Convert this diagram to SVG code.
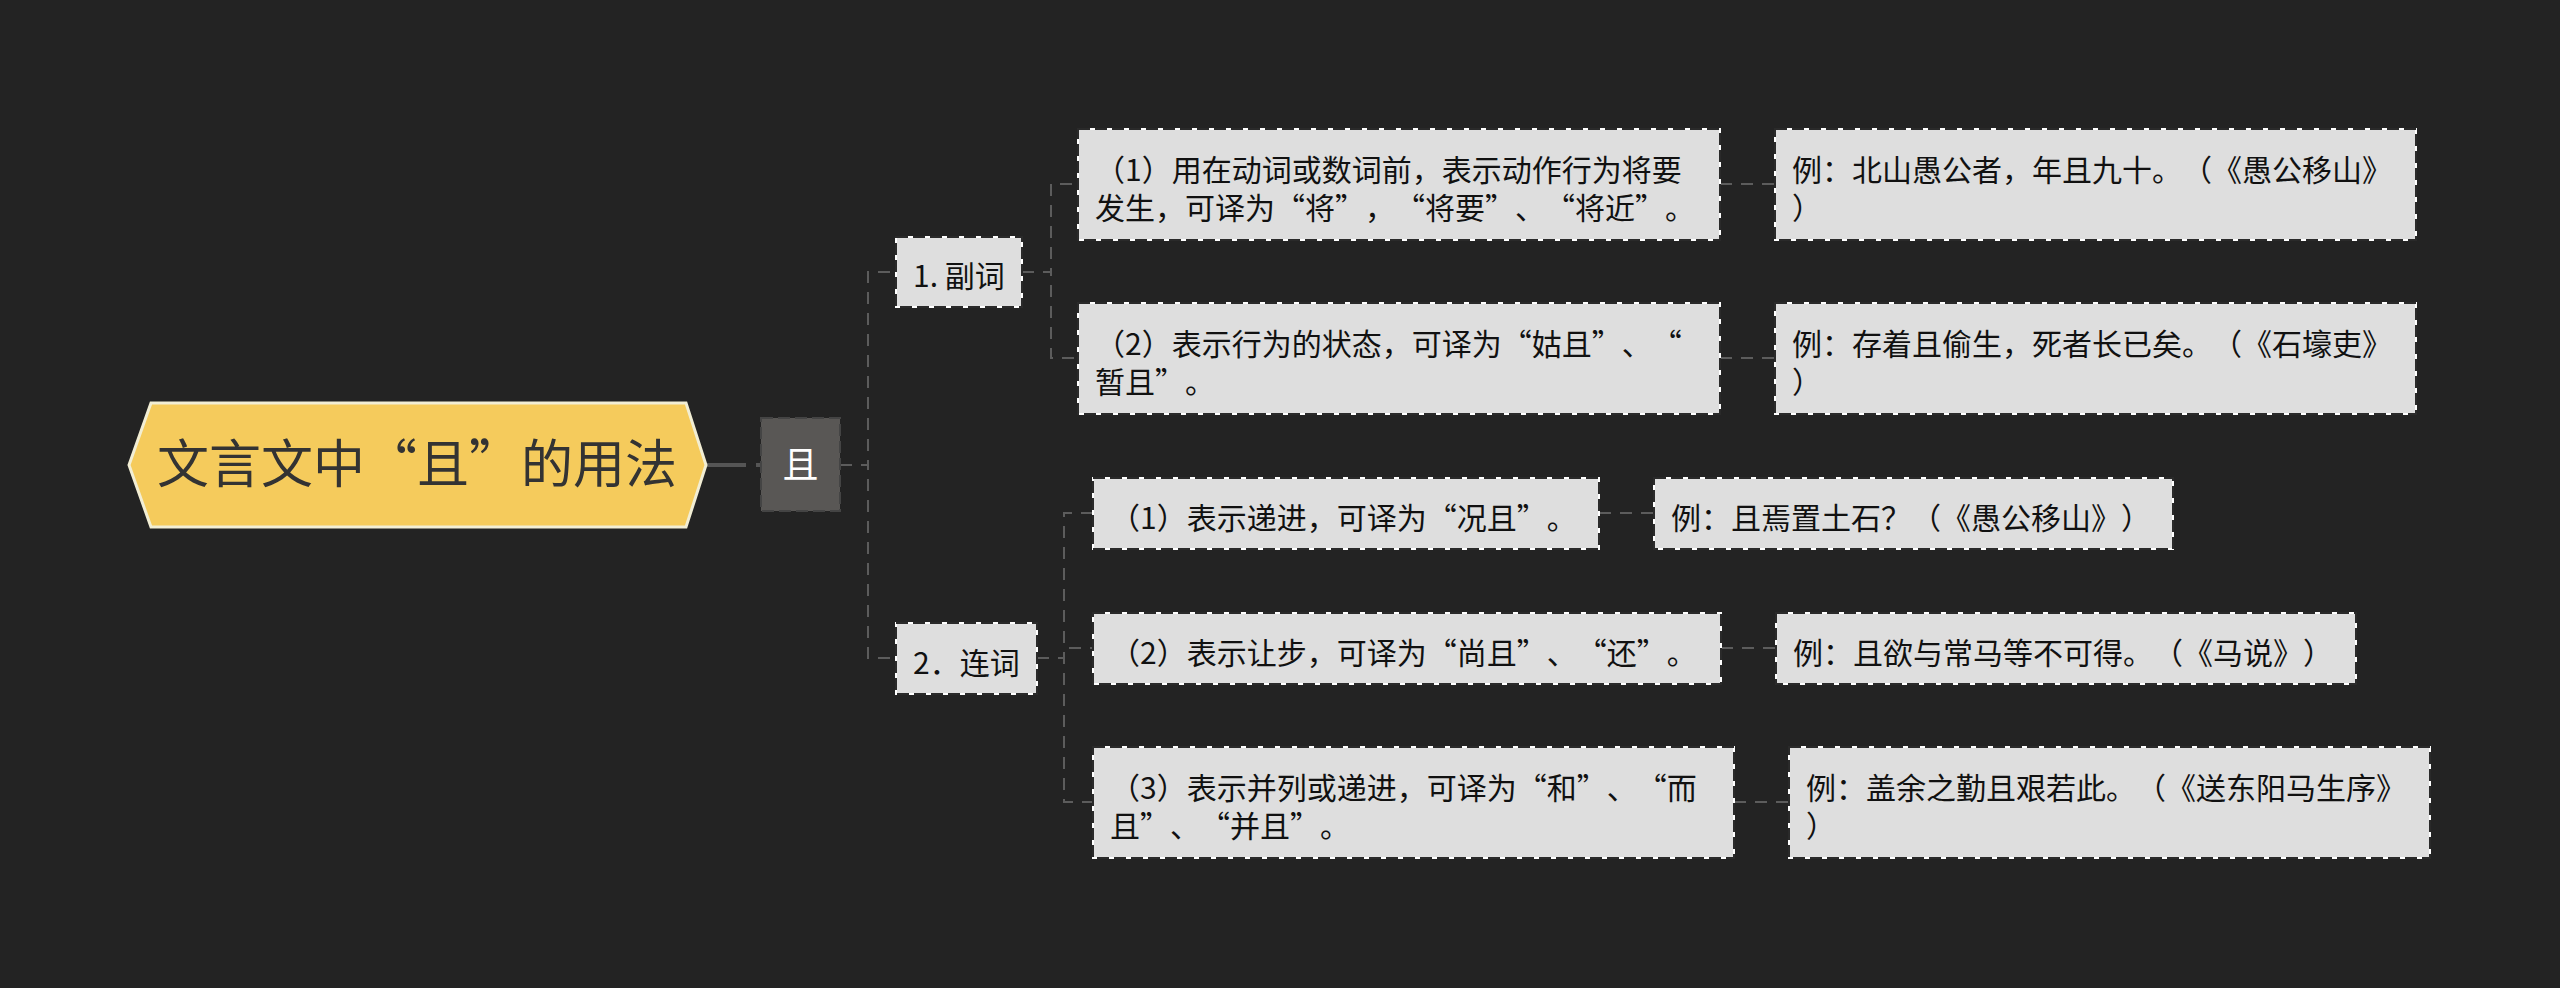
<svg xmlns="http://www.w3.org/2000/svg" width="2560" height="988" viewBox="0 0 2560 988">
<style>
text{font-family:"Noto Sans CJK SC","Noto Sans",sans-serif;text-spacing-trim:space-all;}
.bg{fill:#232323;}
.conn{fill:none;stroke:#5c5c5c;stroke-width:2;stroke-dasharray:12 9;}
.main{fill:none;stroke:#555555;stroke-width:4;stroke-dasharray:40 10;}
.box{fill:#dedede;stroke:#ffffff;stroke-width:2;}
.dash{fill:none;stroke:#2a2a2a;stroke-width:2;stroke-dasharray:12 5;}
.t{font-size:30px;fill:#111111;}
.root{fill:#f5cb5c;stroke:#f2eed4;stroke-width:3;}
.rt{font-size:52px;fill:#333333;text-anchor:middle;}
.sub{fill:#595755;stroke:#444444;stroke-width:2;stroke-dasharray:12 5;}
.st{font-size:36px;fill:#ffffff;text-anchor:middle;}
</style>
<rect class="bg" x="0" y="0" width="2560" height="988"/>
<g id="connectors">
<path class="main" d="M706,465 H761"/>
<path class="conn" d="M840,465 H868 V272 H896"/>
<path class="conn" d="M840,465 H868 V658 H896"/>
<path class="conn" d="M1022,272 H1051 V184 H1078"/>
<path class="conn" d="M1022,272 H1051 V358 H1078"/>
<path class="conn" d="M1037,658 H1064 V513 H1093"/>
<path class="conn" d="M1037,658 H1064 V648 H1093"/>
<path class="conn" d="M1037,658 H1064 V802 H1093"/>
<path class="conn" d="M1720,184 H1775"/>
<path class="conn" d="M1720,358 H1775"/>
<path class="conn" d="M1599,513 H1654"/>
<path class="conn" d="M1721,648 H1776"/>
<path class="conn" d="M1734,802 H1789"/>
</g>
<g id="root">
<polygon class="root" points="129,465 151,403 686,403 706,465 686,527 151,527"/>
<text class="rt" x="417" y="483">文言文中“且”的用法</text>
</g>
<g id="qie">
<rect class="sub" x="761" y="418" width="79" height="93"/>
<text class="st" x="800.5" y="478">且</text>
</g>
<g id="n1">
<rect class="box" x="896" y="237" width="126" height="70"/>
<rect class="dash" x="896" y="237" width="126" height="70"/>
<text class="t" x="913" y="287">1. 副词</text>
</g>
<g id="n2">
<rect class="box" x="896" y="623" width="141" height="71"/>
<rect class="dash" x="896" y="623" width="141" height="71"/>
<text class="t" x="913" y="673.5">2．连词</text>
</g>
<g id="n1a">
<rect class="box" x="1078" y="129" width="642" height="111"/>
<rect class="dash" x="1078" y="129" width="642" height="111"/>
<text class="t"><tspan x="1095" y="180.5">（1）用在动词或数词前，表示动作行为将要</tspan><tspan x="1095" y="218.5">发生，可译为“将”，“将要”、“将近”。</tspan></text>
</g>
<g id="n1b">
<rect class="box" x="1078" y="303" width="642" height="111"/>
<rect class="dash" x="1078" y="303" width="642" height="111"/>
<text class="t"><tspan x="1095" y="354.5">（2）表示行为的状态，可译为“姑且”、“</tspan><tspan x="1095" y="392.5">暂且”。</tspan></text>
</g>
<g id="e1a">
<rect class="box" x="1775" y="129" width="641" height="111"/>
<rect class="dash" x="1775" y="129" width="641" height="111"/>
<text class="t"><tspan x="1792" y="180.5">例：北山愚公者，年且九十。（《愚公移山》</tspan><tspan x="1792" y="218.5">）</tspan></text>
</g>
<g id="e1b">
<rect class="box" x="1775" y="303" width="641" height="111"/>
<rect class="dash" x="1775" y="303" width="641" height="111"/>
<text class="t"><tspan x="1792" y="354.5">例：存着且偷生，死者长已矣。（《石壕吏》</tspan><tspan x="1792" y="392.5">）</tspan></text>
</g>
<g id="n2a">
<rect class="box" x="1093" y="478" width="506" height="71"/>
<rect class="dash" x="1093" y="478" width="506" height="71"/>
<text class="t" x="1110" y="528.5">（1）表示递进，可译为“况且”。</text>
</g>
<g id="e2a">
<rect class="box" x="1654" y="478" width="519" height="71"/>
<rect class="dash" x="1654" y="478" width="519" height="71"/>
<text class="t" x="1671" y="528.5">例：且焉置土石？（《愚公移山》）</text>
</g>
<g id="n2b">
<rect class="box" x="1093" y="613" width="628" height="71"/>
<rect class="dash" x="1093" y="613" width="628" height="71"/>
<text class="t" x="1110" y="663.5">（2）表示让步，可译为“尚且”、“还”。</text>
</g>
<g id="e2b">
<rect class="box" x="1776" y="613" width="580" height="71"/>
<rect class="dash" x="1776" y="613" width="580" height="71"/>
<text class="t" x="1793" y="663.5">例：且欲与常马等不可得。（《马说》）</text>
</g>
<g id="n2c">
<rect class="box" x="1093" y="747" width="641" height="111"/>
<rect class="dash" x="1093" y="747" width="641" height="111"/>
<text class="t"><tspan x="1110" y="798.5">（3）表示并列或递进，可译为“和”、“而</tspan><tspan x="1110" y="836.5">且”、“并且”。</tspan></text>
</g>
<g id="e2c">
<rect class="box" x="1789" y="747" width="641" height="111"/>
<rect class="dash" x="1789" y="747" width="641" height="111"/>
<text class="t"><tspan x="1806" y="798.5">例：盖余之勤且艰若此。（《送东阳马生序》</tspan><tspan x="1806" y="836.5">）</tspan></text>
</g>
</svg>
